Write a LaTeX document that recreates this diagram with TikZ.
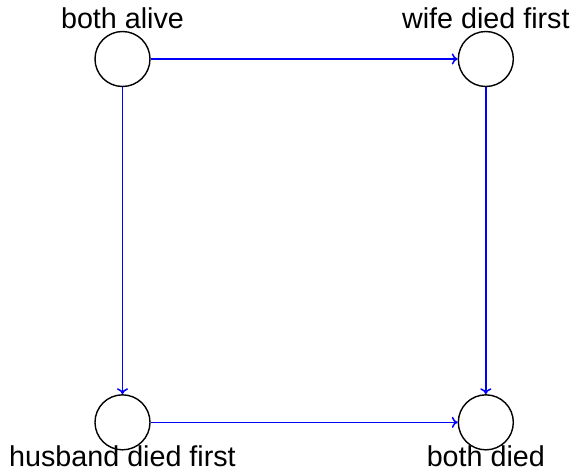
\documentclass[tikz,border=0pt]{standalone}
\usepackage{fontspec}
\setmainfont{Liberation Sans}
\usetikzlibrary{arrows.meta, positioning}
\tikzset{
	state/.style={circle, draw=black, line width=1.2pt, minimum size=1.65cm, inner sep=0pt},
	toplabel/.style={label={[inner sep=0pt, outer sep=0pt, label distance=2pt]above:#1}},
	botlabel/.style={label={[inner sep=0pt, outer sep=0pt, label distance=-4.5pt]below:#1}},
	trans/.style={-{To[length=5pt, width=9.5pt]}, color=blue, line width=1.3pt},
}

\begin{document}
\begin{tikzpicture}[font=\fontsize{24.5}{29}\selectfont]
	\useasboundingbox (-3.675,1.77) rectangle (13.575,-12.51);
	\node[state, toplabel=both alive] (alive) at (0,0) {};
	\node[state, toplabel=wife died first] (wife) at (10.9,0) {};
	\node[state, botlabel=husband died first] (husband) at (0,-10.9) {};
	\node[state, botlabel=both died] (dead) at (10.9,-10.9) {};
	\draw[trans] (alive) -- (wife);
	\draw[trans] (alive) -- (husband);
	\draw[trans] (wife) -- (dead);
	\draw[trans] (husband) -- (dead);
\end{tikzpicture}
\end{document}
